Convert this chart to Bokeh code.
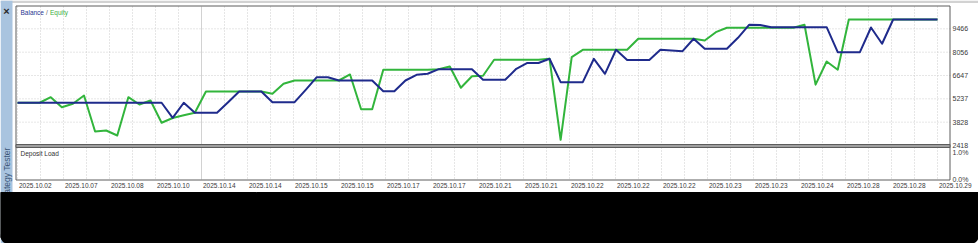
import numpy as np
from bokeh.plotting import figure
from bokeh.models import Range1d
from bokeh.core.properties import value
from bokeh.embed import file_html
from bokeh.resources import INLINE

# ---------------- data ----------------
balance = [5000, 5000, 5000, 5000, 5000, 5000, 5000, 5000, 5000, 5000,
           5000, 5000, 5000, 5000, 4092, 5000, 4394, 4394, 4394, 5030,
           5681, 5681, 5681, 5034, 5034, 5034, 5780, 6545, 6545, 6345,
           6345, 6345, 6345, 5699, 5699, 6345, 6690, 6750, 7028, 7028,
           7028, 7028, 6388, 6388, 6388, 7052, 7403, 7403, 7656, 6243,
           6243, 6243, 7656, 6750, 8200, 7578, 7578, 7578, 8200, 8160,
           8116, 8865, 8261, 8261, 8261, 8925, 9711, 9699, 9566, 9566,
           9566, 9566, 9566, 9566, 8055, 8055, 8055, 9548, 8563, 10031,
           10031, 10031, 10031, 10031]
equity = [5000, 5000, 5000, 5336, 4732, 4938, 5439, 3264, 3324, 3022,
          5336, 4895, 5137, 3790, 4080, 4249, 4394, 5681, 5681, 5681,
          5681, 5681, 5681, 5542, 6146, 6345, 6345, 6345, 6345, 6345,
          6708, 4611, 4611, 6992, 6992, 6992, 6992, 6992, 7028, 7191,
          5904, 6605, 6629, 7596, 7596, 7596, 7596, 7596, 7656, 2762,
          7753, 8200, 8200, 8200, 8200, 8200, 8865, 8865, 8865, 8865,
          8865, 8865, 8762, 9264, 9529, 9529, 9529, 9529, 9529, 9529,
          9529, 9711, 6092, 7493, 6998, 10031, 10031, 10031, 10031, 10031,
          10031, 10031, 10031, 10031]
date_labels = ["2025.10.02", "2025.10.07", "2025.10.08", "2025.10.10", "2025.10.14",
               "2025.10.14", "2025.10.15", "2025.10.15", "2025.10.17", "2025.10.17",
               "2025.10.21", "2025.10.21", "2025.10.22", "2025.10.22", "2025.10.22",
               "2025.10.23", "2025.10.23", "2025.10.24", "2025.10.28", "2025.10.28",
               "2025.10.29"]
y_tick_labels = ["2418", "3828", "5237", "6647", "8056", "9466"]
y_top_value = 10876
load_tick_labels = ["0.0%", "1.0%"]
load_tick_values = [0.0, 1.0]

# ---------------- layout (pixels) ----------------
W, H = 978, 243
PX_FIRST, PX_LAST = 17, 937          # pixel x of first / last deal
PY_TOP, PY_BASE = 5, 145             # pixel y of top value / lowest tick
PY_LOAD0, PY_LOAD1 = 179, 152        # pixel y of 0% / 1% deposit load
FONT = value("Liberation Sans")

n = len(balance)
idx = np.arange(n)
px_per_idx = (PX_LAST - PX_FIRST) / (n - 1)
x_start = -PX_FIRST / px_per_idx
x_end = x_start + W / px_per_idx

y_vals = [float(v) for v in y_tick_labels]
val_per_px = (y_top_value - y_vals[0]) / (PY_BASE - PY_TOP)
y_end = y_top_value + PY_TOP * val_per_px
y_start = y_end - H * val_per_px

load_per_px = (load_tick_values[1] - load_tick_values[0]) / (PY_LOAD0 - PY_LOAD1)
load_end = load_tick_values[1] + PY_LOAD1 * load_per_px
load_start = load_end - H * load_per_px

p = figure(width=W, height=H, x_range=Range1d(x_start, x_end),
           y_range=Range1d(y_start, y_end),
           x_axis_location=None, y_axis_location=None,
           toolbar_location=None, output_backend="svg", min_border=0)
p.outline_line_color = None
p.background_fill_color = "white"
p.border_fill_color = "white"
for g in p.grid:
    g.visible = False
p.extra_x_ranges = {"px": Range1d(0, W)}
p.extra_y_ranges = {"py": Range1d(H, 0), "load": Range1d(load_start, load_end)}

PXR = dict(x_range_name="px", y_range_name="py")

# top strip & sidebar
p.quad(left=0, right=W, top=0, bottom=2.5, fill_color="#d2d2d2", line_color=None, **PXR)
p.quad(left=0, right=12, top=0, bottom=H, fill_color="#a9c4df", line_color=None, **PXR)
p.text(x=[6], y=[10], text=["×"], text_align="center", text_baseline="middle",
       text_font=FONT, text_font_size=value("11px"), text_font_style="bold",
       text_color="#2a2a2a", **PXR)
p.text(x=[6.5], y=[147], text=["Strategy Tester"], angle=np.pi / 2,
       text_align="right", text_baseline="middle", text_font=FONT,
       text_font_size=value("8.5px"), text_color="#3b5678", **PXR)

# vertical grid (both panels)
vg = np.linspace(0, n - 1, 2 * (len(date_labels) - 1) + 1)
solid_k = 8
dotted = [v for k, v in enumerate(vg) if k != solid_k]
p.segment(x0=dotted, x1=dotted, y0=6, y1=179, y_range_name="py",
          line_color="#cdcdcd", line_width=1, line_dash="1 2")
p.segment(x0=[vg[solid_k]], x1=[vg[solid_k]], y0=6, y1=179, y_range_name="py",
          line_color="#d2d2d2", line_width=1)

# horizontal grid (top panel)
p.segment(x0=16, x1=951, y0=y_vals[1:], y1=y_vals[1:], x_range_name="px",
          line_color="#cdcdcd", line_width=1, line_dash="1 2")

# frame and separator
p.quad(left=15.5, right=949.5, top=5.5, bottom=179.5, fill_color=None,
       line_color="#5c5c5c", line_width=1, **PXR)
p.quad(left=15.5, right=949.5, top=144, bottom=147, fill_color="#a0a0a0",
       line_color="#5c5c5c", line_width=1, **PXR)

# series
p.line(idx, equity, line_color="#32b53c", line_width=2, line_join="round")
p.line(idx, balance, line_color="#1f2b8c", line_width=2, line_join="round")

# legend-like caption
p.text(x=[20], y=[12], text=["Balance"], text_align="left", text_baseline="middle",
       text_font=FONT, text_font_size=value("6.5px"), text_color="#2a3590", **PXR)
p.text(x=[45.5], y=[12], text=["/"], text_align="left", text_baseline="middle",
       text_font=FONT, text_font_size=value("6.5px"), text_color="#666666", **PXR)
p.text(x=[49.5], y=[12], text=["Equity"], text_align="left", text_baseline="middle",
       text_font=FONT, text_font_size=value("6.5px"), text_color="#3cb043", **PXR)
p.text(x=[20], y=[153], text=["Deposit Load"], text_align="left", text_baseline="middle",
       text_font=FONT, text_font_size=value("6.5px"), text_color="#333333", **PXR)

# right axis labels
p.text(x=[952] * len(y_vals), y=y_vals, text=y_tick_labels, x_range_name="px",
       text_align="left", text_baseline="middle", text_font=FONT,
       text_font_size=value("7px"), text_color="#3a3a3a")
p.text(x=[952] * 2, y=load_tick_values, text=load_tick_labels, x_range_name="px",
       y_range_name="load", text_align="left", text_baseline="middle",
       text_font=FONT, text_font_size=value("7px"), text_color="#3a3a3a")

# bottom date labels
xt = np.linspace(0, n - 1, len(date_labels))
p.text(x=xt, y=[185] * len(xt), text=date_labels, y_range_name="py", x_offset=1.5,
       text_align="left", text_baseline="middle", text_font=FONT,
       text_font_size=value("6.5px"), text_color="#3a3a3a")

# black area with rounded bottom corners
R = 7
p.quad(left=0, right=W, top=192, bottom=H - R + 1, fill_color="black",
       line_color="black", line_width=1, **PXR)
p.quad(left=R, right=W - R, top=H - R - 1, bottom=H + 1, fill_color="black",
       line_color="black", line_width=1, **PXR)
p.circle(x=[R, W - R], y=[H - R, H - R], radius=R, fill_color="black",
         line_color=None, **PXR)

open("out.html", "w").write(file_html(p, INLINE))
